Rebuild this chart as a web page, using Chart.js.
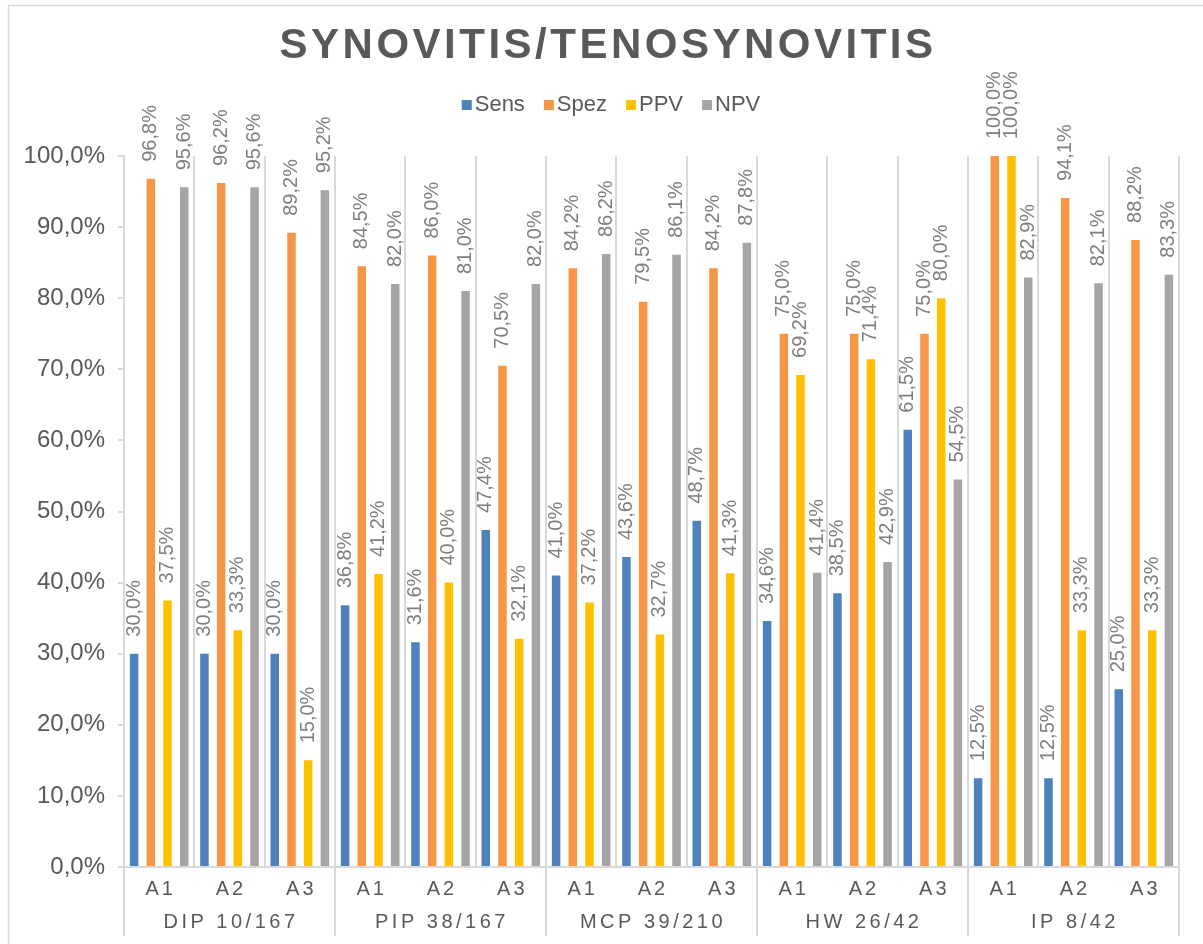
<!DOCTYPE html>
<html>
<head>
<meta charset="utf-8">
<script src="https://cdn.jsdelivr.net/npm/chart.js@4"></script>
<style>
  html, body { margin: 0; padding: 0; background: #fff; }
  canvas { display: block; }
</style>
</head>
<body>
<canvas id="synovitisChart" width="1203" height="944"></canvas>
<script>
const categories = ['A1', 'A2', 'A3', 'A1', 'A2', 'A3', 'A1', 'A2', 'A3', 'A1', 'A2', 'A3', 'A1', 'A2', 'A3'];
const groups = ['DIP 10/167', 'PIP 38/167', 'MCP 39/210', 'HW 26/42', 'IP 8/42'];
const sens = [30.0, 30.0, 30.0, 36.8, 31.6, 47.4, 41.0, 43.6, 48.7, 34.6, 38.5, 61.5, 12.5, 12.5, 25.0];
const spez = [96.8, 96.2, 89.2, 84.5, 86.0, 70.5, 84.2, 79.5, 84.2, 75.0, 75.0, 75.0, 100.0, 94.1, 88.2];
const ppv = [37.5, 33.3, 15.0, 41.2, 40.0, 32.1, 37.2, 32.7, 41.3, 69.2, 71.4, 80.0, 100.0, 33.3, 33.3];
const npv = [95.6, 95.6, 95.2, 82.0, 81.0, 82.0, 86.2, 86.1, 87.8, 41.4, 42.9, 54.5, 82.9, 82.1, 83.3];
const yTicks = [0, 10, 20, 30, 40, 50, 60, 70, 80, 90, 100];

const FONT = '"Liberation Sans", Arial, sans-serif';
const TEXT = '#595959';
const LINE = '#d9d9d9';

const pct = v => v.toFixed(1).replace('.', ',') + '%';

// border, title, legend, value labels and the two-row x axis
const decorations = {
    id: 'decorations',
    beforeDraw(chart) {
        const ctx = chart.ctx;
        ctx.save();
        ctx.strokeStyle = LINE;
        ctx.lineWidth = 1.5;
        ctx.strokeRect(8.5, 5.5, 1400, 1100);
        ctx.restore();
    },
    afterDatasetsDraw(chart) {
        const ctx = chart.ctx;
        ctx.save();
        ctx.font = '20px ' + FONT;
        ctx.fillStyle = '#7f7f7f';
        ctx.textAlign = 'left';
        ctx.textBaseline = 'middle';
        chart.data.datasets.forEach((ds, di) => {
            chart.getDatasetMeta(di).data.forEach((bar, i) => {
                ctx.save();
                ctx.translate(bar.x, bar.y - 17);
                ctx.rotate(-Math.PI / 2);
                ctx.fillText(pct(ds.data[i]), 0, 0);
                ctx.restore();
            });
        });
        ctx.restore();
    },
    afterDraw(chart) {
        const ctx = chart.ctx;
        const area = chart.chartArea;
        const x = chart.scales.x;

        // title
        ctx.save();
        ctx.fillStyle = TEXT;
        ctx.font = 'bold 42px ' + FONT;
        ctx.letterSpacing = '3.5px';
        ctx.textAlign = 'center';
        ctx.textBaseline = 'middle';
        ctx.fillText('SYNOVITIS/TENOSYNOVITIS', 608, 46);
        ctx.restore();

        // legend
        ctx.save();
        ctx.font = '22px ' + FONT;
        ctx.textBaseline = 'middle';
        const items = chart.data.datasets.map(ds => ({ text: ds.label, color: ds.backgroundColor }));
        const box = 10, gap = 3, spacing = 19;
        let total = 0;
        items.forEach((it, i) => {
            it.w = ctx.measureText(it.text).width;
            total += box + gap + it.w + (i < items.length - 1 ? spacing : 0);
        });
        let lx = 611 - total / 2;
        const ly = 105;
        items.forEach(it => {
            ctx.fillStyle = it.color;
            ctx.fillRect(lx, ly - box / 2, box, box);
            ctx.fillStyle = TEXT;
            ctx.fillText(it.text, lx + box + gap, ly);
            lx += box + gap + it.w + spacing;
        });
        ctx.restore();

        // x axis: category row, group row, group separators
        ctx.save();
        ctx.fillStyle = TEXT;
        ctx.font = '20px ' + FONT;
        ctx.letterSpacing = '3px';
        ctx.textAlign = 'center';
        ctx.textBaseline = 'middle';
        categories.forEach((c, i) => {
            ctx.fillText(c, x.getPixelForValue(i) + 1.5, area.bottom + 22);
        });
        ctx.letterSpacing = '3.5px';
        const per = categories.length / groups.length;
        const edges = [];
        for (let g = 0; g <= groups.length; g++) {
            if (g === 0) edges.push(area.left);
            else if (g === groups.length) edges.push(area.right);
            else edges.push((x.getPixelForValue(g * per - 1) + x.getPixelForValue(g * per)) / 2);
        }
        groups.forEach((g, i) => {
            ctx.fillText(g, (edges[i] + edges[i + 1]) / 2 + 1.5, area.bottom + 55);
        });
        ctx.strokeStyle = LINE;
        ctx.lineWidth = 2;
        edges.forEach(e => {
            ctx.beginPath();
            ctx.moveTo(e, area.bottom);
            ctx.lineTo(e, area.bottom + 69);
            ctx.stroke();
        });
        ctx.restore();
    }
};

new Chart(document.getElementById('synovitisChart').getContext('2d'), {
    type: 'bar',
    data: {
        labels: categories,
        datasets: [
            { label: 'Sens', data: sens, backgroundColor: '#4f81bd' },
            { label: 'Spez', data: spez, backgroundColor: '#f79646' },
            { label: 'PPV', data: ppv, backgroundColor: '#ffc000' },
            { label: 'NPV', data: npv, backgroundColor: '#a5a5a5' }
        ]
    },
    options: {
        responsive: false,
        animation: false,
        devicePixelRatio: 1,
        layout: { padding: { top: 156, right: 24, left: 0, bottom: 0 } },
        datasets: { bar: { barPercentage: 0.51, categoryPercentage: 0.95 } },
        plugins: {
            legend: { display: false },
            title: { display: false },
            tooltip: { enabled: false }
        },
        scales: {
            x: {
                afterFit: s => { s.height = 77; },
                ticks: { display: false },
                grid: { offset: true, color: LINE, lineWidth: 2, drawTicks: false, tickLength: 0 },
                border: { color: LINE, width: 2 }
            },
            y: {
                min: 0,
                max: 100,
                afterFit: s => { s.width = 124; },
                afterBuildTicks: s => { s.ticks = yTicks.map(v => ({ value: v })); },
                ticks: {
                    callback: v => pct(v),
                    color: TEXT,
                    font: { family: FONT, size: 24 },
                    padding: 13
                },
                grid: { drawOnChartArea: false, color: LINE, lineWidth: 2, tickLength: 6 },
                border: { color: LINE, width: 2 }
            }
        }
    },
    plugins: [decorations]
});
</script>
</body>
</html>
